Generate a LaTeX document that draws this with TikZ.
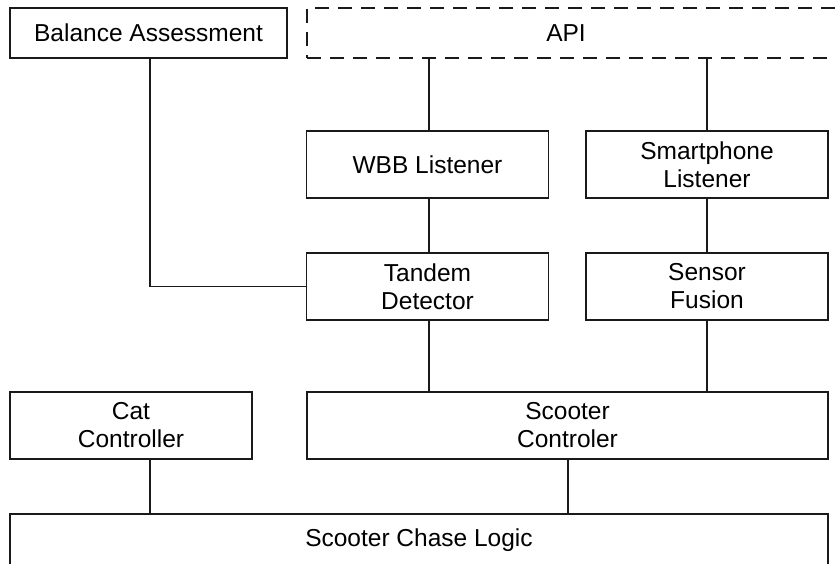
\documentclass[tikz,border=0pt]{standalone}
\usepackage{fontspec}
\setmainfont{Liberation Sans}
\usepackage{tikz}
\usetikzlibrary{calc}
\definecolor{bxLine}{HTML}{1A1A1A}

\begin{document}
\begin{tikzpicture}[
    x=1pt, y=-1pt,
    box/.style={rectangle, draw=bxLine, line width=1.2pt, fill=white, inner sep=0pt, align=center, font=\fontsize{24.5}{28}\selectfont},
    wide/.style={box, minimum width=242, minimum height=67},
    apibox/.style={box, dash pattern=on 14pt off 9pt, minimum width=538, minimum height=50},
    wire/.style={draw=bxLine, line width=1.2pt},
  ]
  \useasboundingbox (0,0) rectangle (835,563);
  \node[box, minimum width=277, minimum height=50] (bal) at (148.5,33) {Balance Assessment};
  \node[apibox] (api) at (576,33) {};
  \node[font=\fontsize{24.5}{28}\selectfont] (apilab) at (566,33) {API};
  \node[wide] (wbb) at (427.5,164.5) {WBB Listener};
  \node[wide] (phone) at (707,164.5) {Smartphone\\Listener};
  \node[wide] (tandem) at (427.5,286.5) {Tandem\\Detector};
  \node[wide] (fusion) at (707,286.5) {Sensor\\Fusion};
  \node[wide] (cat) at (131,425.5) {Cat\\Controller};
  \node[box, minimum width=521, minimum height=67] (scooter) at (567.5,425.5) {Scooter\\Controler};
  \node[box, minimum width=818, minimum height=52] (chase) at (419,540) {Scooter Chase Logic};
  \draw[wire] ($(bal.south)+(1.5,0)$) |- (tandem.west);
  \draw[wire] ($(wbb.north)+(1.5,0)$) -- ($(wbb.north |- api.south)+(1.5,0)$);
  \draw[wire] (phone.north) -- (phone.north |- api.south);
  \draw[wire] ($(wbb.south)+(1.5,0)$) -- ($(tandem.north)+(1.5,0)$);
  \draw[wire] (phone.south) -- (fusion.north);
  \draw[wire] ($(tandem.south)+(1.5,0)$) -- ($(tandem.south |- scooter.north)+(1.5,0)$);
  \draw[wire] (fusion.south) -- (fusion.south |- scooter.north);
  \draw[wire] ($(cat.south)+(19,0)$) -- ($(cat.south |- chase.north)+(19,0)$);
  \draw[wire] ($(scooter.south)+(0.5,0)$) -- ($(scooter.south |- chase.north)+(0.5,0)$);
\end{tikzpicture}
\end{document}
